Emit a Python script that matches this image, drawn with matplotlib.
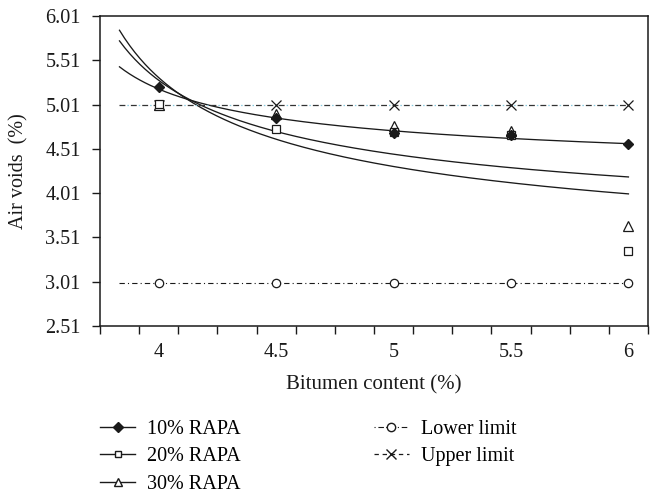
import numpy as np
import matplotlib
matplotlib.use('Agg')
import matplotlib.pyplot as plt
from matplotlib.lines import Line2D

plt.rcParams['font.family'] = ['Liberation Serif', 'DejaVu Serif']

# bitumen content (%) and measured air voids (%)
bitumen = [4.0, 4.5, 5.0, 5.5, 6.0]
rapa_10 = [5.21, 4.86, 4.69, 4.67, 4.56]
rapa_20 = [5.02, 4.73, 4.70, 4.67, 3.36]
rapa_30 = [5.00, 4.90, 4.77, 4.71, 3.64]
lower_limit = [3.0, 3.0, 3.0, 3.0, 3.0]
upper_limit = [5.0, 5.0, 5.0, 5.0, 5.0]

# trend curves: voids = a + b / sqrt(n), n = sample number (1..5)
trend_a = [4.07, 2.94, 3.31]
trend_b = [1.115, 2.374, 1.974]
trend_start = 3.833

y_ticks = [2.51, 3.01, 3.51, 4.01, 4.51, 5.01, 5.51, 6.01]
x_ticks = [4, 4.5, 5, 5.5, 6]

FS = 14.5
INK = '#1a1a1a'

fig = plt.figure(figsize=(6.52, 4.93), dpi=100)
ax = fig.add_axes([100 / 652, 1 - 326 / 493, 548 / 652, 310 / 493])

# fitted trend curves
xs = np.linspace(trend_start, bitumen[-1], 200)
n = (xs - 3.5) / 0.5
for a, b in zip(trend_a, trend_b):
    ax.plot(xs, a + b / np.sqrt(n), color=INK, lw=0.95, zorder=2)

# limit lines
ax.plot([trend_start, bitumen[-1]], [lower_limit[0], lower_limit[-1]], color=INK, lw=0.8,
        linestyle=(0, (4.8, 2.8, 1, 2.8)), zorder=2)
ax.plot([trend_start, bitumen[-1]], [upper_limit[0], upper_limit[-1]], color='#333333', lw=0.9,
        linestyle=(0, (4.7, 4.4)), zorder=2)
ax.plot([trend_start, bitumen[-1]], [upper_limit[0], upper_limit[-1]], color='#86c9de', lw=0.9,
        linestyle=(-6.3, (1.2, 7.9)), zorder=2)

# measured points
ax.plot(bitumen, lower_limit, 'o', ms=6, mfc='white', mec=INK, mew=0.9, zorder=3)
ax.plot(bitumen, upper_limit, 'x', ms=7.5, mec=INK, mew=0.9, zorder=3)
ax.plot(bitumen, rapa_30, '^', ms=6.5, mfc='white', mec=INK, mew=0.9, zorder=4)
ax.plot(bitumen, rapa_20, 's', ms=5.5, mfc='white', mec=INK, mew=0.9, zorder=4)
ax.plot(bitumen, rapa_10, 'D', ms=5, color=INK, zorder=5)

ax.set_xlim(3.75, 6.0833)
ax.set_ylim(2.51, 6.01)
ax.set_yticks(y_ticks)
ax.set_yticklabels(['%.2f' % v for v in y_ticks])
ax.set_xticks(x_ticks)
ax.set_xticklabels(['%g' % v for v in x_ticks])
ax.set_xticks(3.75 + np.arange(15) / 6, minor=True)
ax.tick_params(axis='x', which='major', length=0, pad=12, labelsize=FS, colors=INK)
ax.tick_params(axis='x', which='minor', length=6, width=1, direction='out', color=INK)
ax.tick_params(axis='y', length=6, width=1, direction='out', pad=8, labelsize=FS, colors=INK)
for s in ax.spines.values():
    s.set_linewidth(1.1)
    s.set_color(INK)

ax.set_xlabel('Bitumen content (%)', fontsize=FS + 0.5, color=INK, labelpad=10)
ax.set_ylabel('Air voids  (%)', fontsize=FS, color=INK, labelpad=12)

handles = [
    Line2D([], [], color=INK, lw=1, marker='D', ms=5),
    Line2D([], [], color=INK, lw=1, marker='s', ms=5, mfc='white'),
    Line2D([], [], color=INK, lw=1, marker='^', ms=6, mfc='white'),
    Line2D([], [], color=INK, lw=0.8, linestyle=(0, (1, 2.5, 5, 2)), marker='o', ms=6, mfc='white'),
    Line2D([], [], color=INK, lw=0.9, linestyle=(0, (3.5, 3)), marker='x', ms=7),
]
labels = ['10% RAPA', '20% RAPA', '30% RAPA', 'Lower limit', 'Upper limit']
fig.legend(handles, labels, ncol=2, loc='upper left', bbox_to_anchor=(100 / 652, 1 - 420 / 493),
           frameon=False, fontsize=FS, borderpad=0, borderaxespad=0, handlelength=1.75,
           handletextpad=0.6, columnspacing=6.6, labelspacing=0.41)

fig.savefig('out.png', dpi=100)
